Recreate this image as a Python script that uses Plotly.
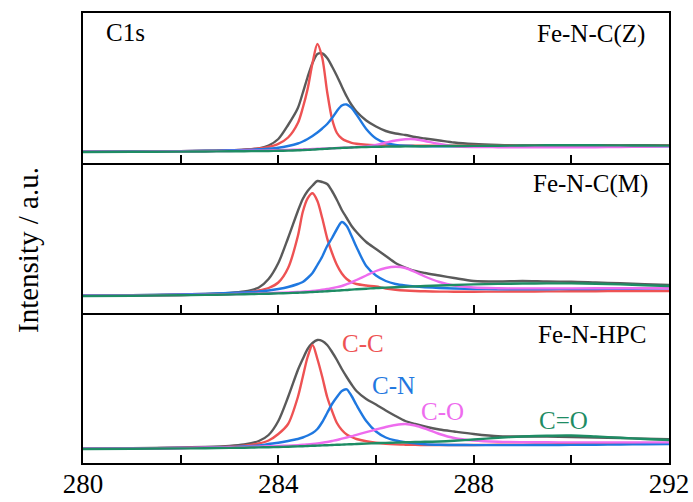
import plotly.graph_objects as go
from plotly.subplots import make_subplots

# Binding energy grid (eV)
be = [280, 281, 282, 282.5, 283, 283.3, 283.6, 283.8, 284.0, 284.2, 284.4, 284.5, 284.6, 284.7,
      284.8, 284.9, 285.0, 285.1, 285.2, 285.3, 285.4, 285.5, 285.6, 285.8, 286.0, 286.2, 286.4,
      286.6, 286.8, 287.0, 287.3, 287.6, 288.0, 288.5, 289.0, 289.5, 290.0, 290.5, 291.0, 291.5, 292.0]

# ---- Fe-N-C(Z) (top) ----
z_raw = [0.3, 0.5, 0.8, 1.0, 1.6, 2.3, 3.6, 6.5, 13, 27, 44, 59, 75, 89, 98, 98.5, 94, 85.5, 76, 65.5,
         55.5, 47, 40.5, 31.5, 25.5, 21, 18.5, 17, 15, 13.5, 11.5, 9.5, 8, 7, 6.5, 6.8, 6.5, 6.8, 6.6, 6.8, 6.6]
z_cc = [0.3, 0.5, 0.9, 1.2, 1.7, 2.3, 3.5, 5.2, 8.2, 14.5, 29, 44, 63, 89, 108, 94, 60, 33, 19, 13.5,
        10.8, 9.2, 8.3, 7.3, 6.8, 6.5, 6.3, 6.2, 6.2, 6.2, 6.2, 6.2, 6.2, 6.2, 6.2, 6.2, 6.2, 6.2, 6.3, 6.3, 6.3]
z_cn = [0.3, 0.5, 0.9, 1.2, 1.7, 2.1, 2.8, 3.4, 4.3, 6.0, 8.5, 10.5, 13, 16, 19.5, 23.5, 28, 34, 41, 46.5,
        47.5, 44, 37.5, 23, 13.5, 9, 7, 6.2, 5.9, 5.7, 5.6, 5.6, 5.6, 5.6, 5.6, 5.6, 5.6, 5.7, 5.7, 5.7, 5.7]
z_co = [0.2, 0.4, 0.6, 0.8, 1.0, 1.2, 1.4, 1.6, 1.8, 2.1, 2.4, 2.6, 2.8, 3.0, 3.2, 3.4, 3.6, 3.8, 4.0, 4.2,
        4.4, 4.7, 5.0, 5.6, 7.0, 9.3, 11.5, 12.8, 12.8, 11.0, 8.0, 5.8, 5.0, 4.8, 4.7, 4.7, 4.7, 4.8, 5.0, 5.3, 5.6]
z_c2o = [0, 0.2, 0.4, 0.5, 0.7, 0.8, 0.9, 1.0, 1.2, 1.4, 1.7, 1.9, 2.1, 2.4, 2.7, 3.0, 3.3, 3.6, 3.9, 4.1,
         4.3, 4.5, 4.7, 5.0, 5.2, 5.4, 5.5, 5.6, 5.7, 5.8, 5.9, 6.0, 6.1, 6.3, 6.5, 6.7, 6.8, 6.7, 6.6, 6.5, 6.4]

# ---- Fe-N-C(M) (middle) ----
m_raw = [0.3, 0.8, 1.5, 2.0, 3.0, 4.5, 8.5, 17, 33, 58, 85, 97, 105, 110.5, 115, 114, 112, 105, 96, 86,
         78, 70, 64, 54, 47, 40, 33, 28.5, 25, 23, 20.5, 18, 15, 14.5, 15, 14.5, 14.3, 13.5, 12.7, 11.8, 11]
m_cc = [0.3, 0.6, 1.0, 1.5, 2.4, 3.3, 5.5, 8, 13.5, 28, 60, 84, 97.7, 102.7, 95, 77.7, 57.7, 43, 31, 22.5,
        17, 13.8, 12, 10.5, 9.5, 7.5, 6.3, 5.5, 5.0, 4.7, 4.4, 4.3, 4.3, 4.4, 4.5, 4.6, 4.7, 4.8, 4.9, 5.0, 5.0]
m_cn = [0.5, 0.8, 1.5, 2.0, 3.0, 3.6, 4.5, 5.5, 7, 9, 12, 14, 18, 23, 31, 39.5, 50, 58, 67, 74,
        70, 60, 49, 30, 20.5, 15, 12, 10.5, 9.5, 8.8, 8, 7.5, 7, 6.8, 6.7, 6.8, 6.9, 7.0, 7.2, 7.4, 7.6]
m_co = [0.3, 0.6, 1.0, 1.3, 1.8, 2.1, 2.5, 2.8, 3.2, 3.6, 4.0, 4.3, 4.6, 5.0, 5.5, 6.2, 7.0, 7.8, 8.8, 10,
        11.8, 13.7, 16, 20.5, 25, 28, 29.2, 28, 24, 19.5, 14, 10.5, 8.5, 7.8, 7.6, 7.6, 7.6, 7.7, 7.7, 7.7, 7.7]
m_c2o = [0, 0.3, 0.8, 1.1, 1.5, 1.8, 2.1, 2.3, 2.6, 2.9, 3.3, 3.5, 3.7, 4.0, 4.2, 4.5, 4.8, 5.1, 5.4, 5.7,
         6.0, 6.4, 6.7, 7.3, 8.0, 8.4, 8.8, 9.2, 9.6, 10.0, 10.5, 11.0, 11.6, 12.1, 12.5, 12.6, 12.6, 12.3, 11.6, 10.8, 10.0]

# ---- Fe-N-HPC (bottom) ----
h_raw = [0.3, 0.8, 1.5, 2.0, 3.0, 4.5, 8, 14, 28, 52, 79, 90, 100, 106, 109, 108, 104, 97, 89, 80,
         72, 64.5, 58, 50, 44.5, 38.5, 33, 28, 25, 22.5, 19.5, 17.5, 15, 12.7, 12.5, 12.5, 12, 11.5, 11, 10.3, 9.7]
h_cc = [0.3, 0.6, 1.0, 1.5, 2.3, 3.2, 5.5, 8.5, 15, 25, 52, 72, 92, 104, 90, 72, 52, 38, 26, 19,
        14.5, 12, 10, 7.7, 6.2, 5.2, 4.6, 4.3, 4.1, 4.0, 4.0, 4.0, 4.0, 4.2, 4.4, 4.6, 4.8, 5.0, 5.2, 5.4, 5.6]
h_cn = [0.3, 0.6, 1.0, 1.4, 2.0, 2.7, 3.5, 5.0, 6.3, 8, 10, 11.5, 13.5, 16, 20, 27, 36, 45, 52, 58,
        59.7, 53, 44, 28, 17.5, 11.5, 8.5, 6.8, 5.6, 4.8, 4.2, 4.0, 3.9, 3.9, 3.9, 4.0, 4.1, 4.3, 4.5, 4.7, 4.9]
h_co = [0.3, 0.6, 1.0, 1.3, 1.7, 2.0, 2.4, 2.7, 3.0, 3.4, 3.9, 4.2, 4.6, 5.0, 5.5, 6.2, 7.0, 8.0, 9.0, 10.3,
        11.5, 12.8, 14.2, 16.8, 19.5, 22, 24, 25, 23.5, 20.5, 15, 11, 8.5, 7.2, 6.8, 6.7, 6.6, 6.6, 6.6, 6.6, 6.6]
h_c2o = [0, 0.3, 0.6, 0.8, 1.1, 1.3, 1.6, 1.8, 2.0, 2.3, 2.6, 2.8, 3.0, 3.2, 3.4, 3.6, 3.8, 4.0, 4.2, 4.4,
         4.6, 4.8, 5.0, 5.4, 5.8, 6.1, 6.4, 6.7, 7.0, 7.2, 7.5, 8.2, 9.5, 11.2, 12.5, 13.3, 13.5, 12.5, 11.3, 10.0, 9.0]

panels = [
    ("Fe-N-C(Z)", [z_raw, z_cc, z_cn, z_co, z_c2o]),
    ("Fe-N-C(M)", [m_raw, m_cc, m_cn, m_co, m_c2o]),
    ("Fe-N-HPC", [h_raw, h_cc, h_cn, h_co, h_c2o]),
]
series_names = ["Raw", "C-C", "C-N", "C-O", "C=O"]
colors = ["#5a5a5a", "#ee5253", "#1f78e0", "#ee6cee", "#1e8c64"]
y_ranges = [[-11, 139], [-17, 133], [-14, 136]]

x_ticks = [280, 282, 284, 286, 288, 290, 292]
x_ticktext = ["280", "", "284", "", "288", "", "292"]

FONT = "Liberation Serif, Times New Roman, serif"

fig = make_subplots(rows=3, cols=1, shared_xaxes=True, vertical_spacing=0)

for i, (label, curves) in enumerate(panels):
    for name, col, ys in zip(series_names, colors, curves):
        fig.add_trace(go.Scatter(x=be, y=ys, mode="lines", name=name,
                                 line=dict(color=col, width=2.4, shape="spline", smoothing=0.8),
                                 showlegend=False), row=i + 1, col=1)
    fig.update_yaxes(range=y_ranges[i], showticklabels=False, ticks="", showgrid=False,
                     zeroline=False, showline=True, linecolor="black", linewidth=1.6,
                     mirror=True, automargin=False, row=i + 1, col=1)
    fig.update_xaxes(range=[280, 292], tickvals=x_ticks, ticktext=x_ticktext,
                     ticks="inside", ticklen=8, tickwidth=1.6, tickcolor="black",
                     showgrid=False, zeroline=False, showline=True, linecolor="black",
                     linewidth=1.6, mirror=(i == 0), showticklabels=(i == 2),
                     ticklabelstandoff=-4, automargin=False,
                     tickfont=dict(family=FONT, size=27, color="black"),
                     row=i + 1, col=1)

W, H = 693, 502
L, R, T, B = 83, 669, 13, 463


def px(xp):
    return (xp - L) / (R - L)


def py(yp):
    return (B - yp) / (B - T)


annos = [
    dict(text="C1s", x=px(104), y=py(32), xanchor="left", color="black"),
    dict(text="Fe-N-C(Z)", x=px(647), y=py(34), xanchor="right", color="black"),
    dict(text="Fe-N-C(M)", x=px(650), y=py(184), xanchor="right", color="black"),
    dict(text="Fe-N-HPC", x=px(648), y=py(334), xanchor="right", color="black"),
    dict(text="C-C", x=px(340), y=py(343), xanchor="left", color=colors[1]),
    dict(text="C-N", x=px(370), y=py(385), xanchor="left", color=colors[2]),
    dict(text="C-O", x=px(419), y=py(411), xanchor="left", color=colors[3]),
    dict(text="C=O", x=px(537), y=py(420), xanchor="left", color=colors[4]),
]
for a in annos:
    fig.add_annotation(text=a["text"], x=a["x"], y=a["y"], xref="paper", yref="paper",
                       xanchor=a["xanchor"], yanchor="middle", showarrow=False,
                       font=dict(family=FONT, size=25, color=a["color"]))

fig.add_annotation(text="Intensity / a.u.", x=px(28), y=py(250), xref="paper", yref="paper",
                   xanchor="center", yanchor="middle", textangle=-90, showarrow=False,
                   font=dict(family=FONT, size=29, color="black"))

fig.update_layout(width=W, height=H, margin=dict(l=L, r=W - R, t=T, b=H - B, autoexpand=False),
                  plot_bgcolor="white", paper_bgcolor="white", showlegend=False)

fig.write_html("out.html")
